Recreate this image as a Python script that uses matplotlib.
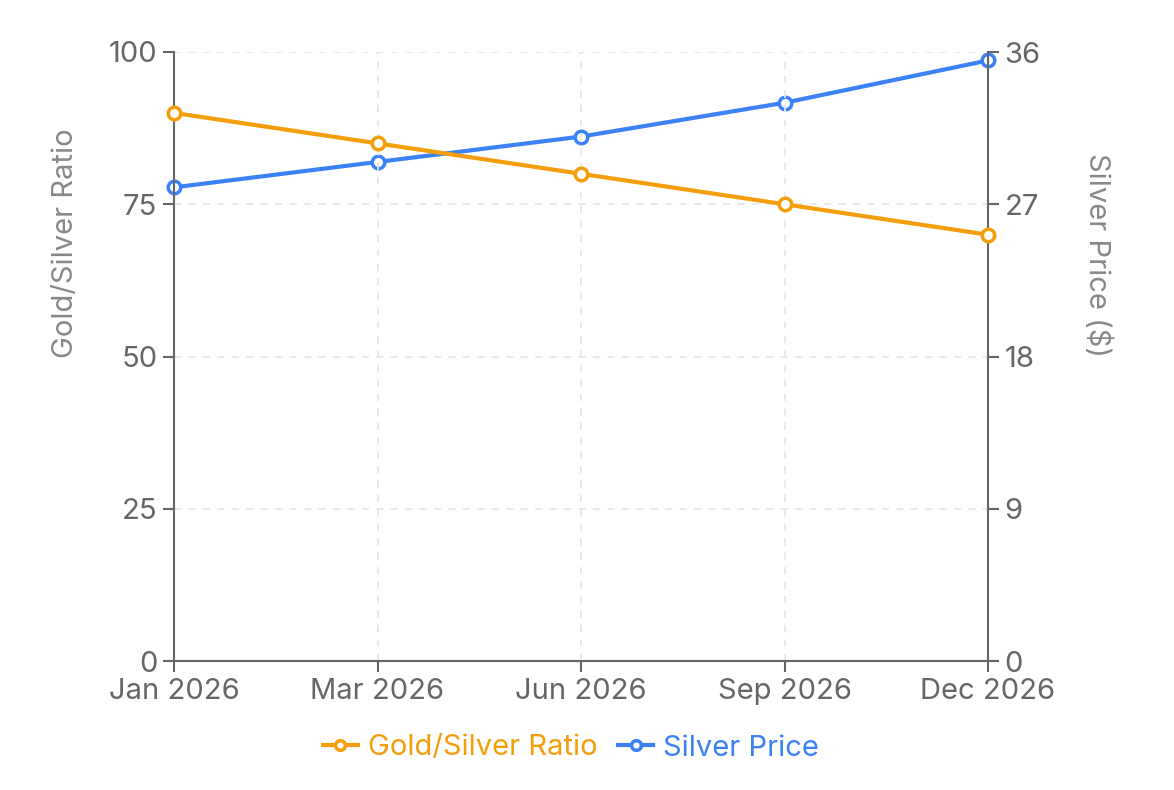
import matplotlib
matplotlib.use("Agg")
import matplotlib.pyplot as plt
from matplotlib.lines import Line2D

plt.rcParams["font.family"] = ["Inter", "DejaVu Sans"]

# DATA
MONTHS = ["Jan 2026", "Mar 2026", "Jun 2026", "Sep 2026", "Dec 2026"]
RATIO = [90, 85, 80, 75, 70]
SILVER = [28.0, 29.5, 31.0, 33.0, 35.5]
RATIO_TICKS = [0, 25, 50, 75, 100]
SILVER_TICKS = [0, 9, 18, 27, 36]

# COLORS
COLOR_RATIO = "#f59e0b"
COLOR_SILVER = "#3b82f6"
COLOR_AXIS = "#666666"
COLOR_LABEL = "#888888"
COLOR_GRID = "#e5e7eb"

W, H = 1174, 790
fig = plt.figure(figsize=(W / 100, H / 100), dpi=100)
ax = fig.add_axes([174 / W, 1 - 661 / H, 814 / W, 609 / H])
ax2 = ax.twinx()

x = list(range(len(MONTHS)))

marker_kw = dict(marker="o", markersize=9, markerfacecolor="white",
                 markeredgewidth=2.5, lw=3, clip_on=False)

ax.plot(x, RATIO, c=COLOR_RATIO, markeredgecolor=COLOR_RATIO,
        zorder=5, **marker_kw)
ax2.plot(x, SILVER, c=COLOR_SILVER, markeredgecolor=COLOR_SILVER,
         zorder=5, **marker_kw)

# Left axis
ax.set_xlim(0, len(MONTHS) - 1)
ax.set_ylim(0, 100)
ax.set_yticks(RATIO_TICKS)
ax.set_xticks(x)
ax.set_xticklabels(MONTHS)

# Right axis
ax2.set_ylim(0, 36)
ax2.set_yticks(SILVER_TICKS)

# Axis titles (placed like the reference, above centre)
fig.text(65 / W, 1 - 243 / H, "Gold/Silver Ratio", fontsize=21,
         color=COLOR_LABEL, rotation=90, ha="center", va="center")
fig.text(1097 / W, 1 - 255 / H, "Silver Price ($)", fontsize=21,
         color=COLOR_LABEL, rotation=270, ha="center", va="center")

# Grid
ax.grid(True, color=COLOR_GRID, ls=(0, (4, 4)), lw=1.3)
ax.set_axisbelow(True)

for a in (ax, ax2):
    a.tick_params(colors=COLOR_AXIS, labelsize=21, length=8, width=1.5, pad=4)
    for s in a.spines.values():
        s.set_color(COLOR_AXIS)
        s.set_linewidth(1.5)
        s.set_visible(False)
ax.spines["left"].set_visible(True)
ax.spines["bottom"].set_visible(True)
ax.spines["right"].set_visible(True)
ax.set_zorder(ax2.get_zorder() + 1)
ax.patch.set_visible(False)

# Legend
handles = [
    Line2D([], [], c=COLOR_RATIO, lw=3, marker="o", markersize=7,
           markerfacecolor="white", markeredgecolor=COLOR_RATIO,
           markeredgewidth=2.5),
    Line2D([], [], c=COLOR_SILVER, lw=3, marker="o", markersize=7,
           markerfacecolor="white", markeredgecolor=COLOR_SILVER,
           markeredgewidth=2.5),
]
leg = fig.legend(handles, ["Gold/Silver Ratio", "Silver Price"],
                 loc="center", bbox_to_anchor=(571 / W, 1 - 748 / H),
                 ncol=2, frameon=False, fontsize=21, handlelength=1.2,
                 handletextpad=0.35, columnspacing=0.7)
for text, color in zip(leg.get_texts(), (COLOR_RATIO, COLOR_SILVER)):
    text.set_color(color)

plt.savefig("out.png", dpi=100)
